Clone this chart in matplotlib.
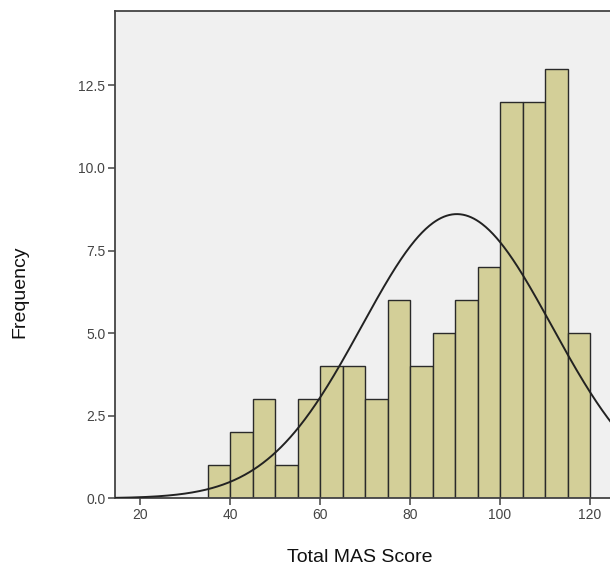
import numpy as np
import matplotlib
matplotlib.use("Agg")
import matplotlib.pyplot as plt

plt.rcParams['font.family'] = ['Liberation Sans', 'DejaVu Sans']

bin_edges = [35, 40, 45, 50, 55, 60, 65, 70, 75, 80, 85, 90, 95, 100, 105, 110, 115, 120]
counts = [1, 2, 3, 1, 3, 4, 4, 3, 6, 4, 5, 6, 7, 12, 12, 13, 5]
mean_score = 90.4
sd_score = 21.1
x_ticks = [20, 40, 60, 80, 100, 120]
y_ticks = [0.0, 2.5, 5.0, 7.5, 10.0, 12.5]

W, H = 610, 568
left_px, bottom_px, top_px = 115, 498.3, 10.7
px_per_unit = 4.5
x_at_left = 14.44
right_px = 1.05 * W

fig = plt.figure(figsize=(W / 100, H / 100), dpi=100)
ax = fig.add_axes([left_px / W, (H - bottom_px) / H, (right_px - left_px) / W, (bottom_px - top_px) / H])
ax.set_facecolor('#F0F0F0')

widths = np.diff(bin_edges)
ax.bar(bin_edges[:-1], counts, width=widths, align='edge',
       color='#D3CF98', edgecolor='#2a2a2a', linewidth=1.0, zorder=2)

n = sum(counts)
bw = widths[0]
xs = np.linspace(14, 135, 600)
ys = n * bw / (sd_score * np.sqrt(2 * np.pi)) * np.exp(-0.5 * ((xs - mean_score) / sd_score) ** 2)
ax.plot(xs, ys, color='#222222', linewidth=1.4, zorder=3)

ax.set_xlim(x_at_left, x_at_left + (right_px - left_px) / px_per_unit)
ax.set_ylim(0, 14.76)
ax.set_xticks(x_ticks)
ax.set_yticks(y_ticks)
ax.set_yticklabels([f"{v:.1f}" for v in y_ticks])

for s in ['left', 'top', 'bottom']:
    ax.spines[s].set_color('#444444')
    ax.spines[s].set_linewidth(1.3)
ax.spines['right'].set_visible(False)
ax.tick_params(axis='both', direction='out', length=5, width=1.1, color='#444444',
               labelsize=10, labelcolor='#444444', pad=2)

fig.text(360 / W, 1 - 558 / H, 'Total MAS Score', ha='center', va='center', fontsize=14, color='#111111')
fig.text(20 / W, 1 - 292 / H, 'Frequency', ha='center', va='center', rotation=90, fontsize=14, color='#111111')

fig.savefig('out.png', dpi=100)
